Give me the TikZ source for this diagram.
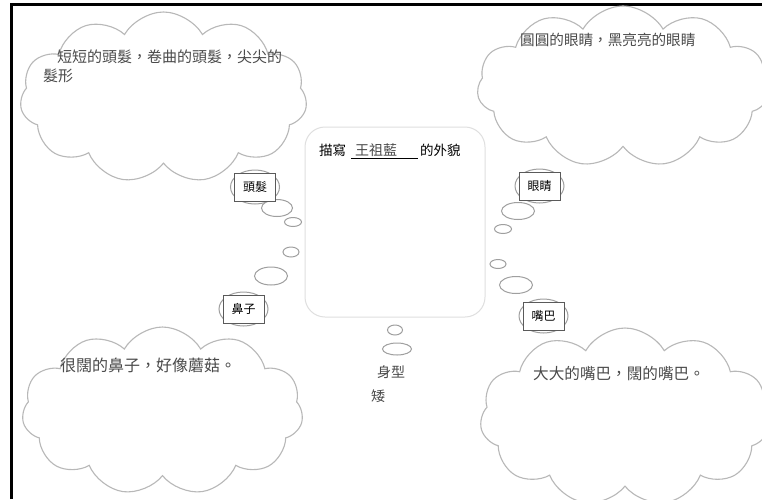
\documentclass[tikz,border=0pt]{standalone}
\usepackage{xcolor}
\usepackage{tikz}
\usepackage{fontspec}
\newfontfamily\cjk{Noto Sans CJK TC}
\usetikzlibrary{shapes.symbols, shapes.geometric, positioning}

\definecolor{cloudgray}{HTML}{B8B8B8}
\definecolor{inkgray}{HTML}{4A4A4A}
\definecolor{boxgray}{HTML}{5A5A5A}

\begin{document}
\begin{tikzpicture}[
    x=1pt, y=-1pt,
    every node/.style={font=\cjk},
    thought/.style={
        draw=cloudgray,
        line width=1.1pt,
        cloud,
        cloud puffs=11,
        cloud puff arc=120,
        cloud ignores aspect,
        inner sep=0pt
    },
    bubble/.style={draw=gray!75, line width=1pt, ellipse, inner sep=0pt},
    tagback/.style={bubble, minimum width=49pt, minimum height=34pt},
    tag/.style={
        draw=boxgray,
        line width=0.9pt,
        fill=white,
        rectangle,
        minimum width=41pt,
        minimum height=28pt,
        inner sep=0pt,
        font=\cjk\fontsize{12}{14}\selectfont
    },
    hand/.style={text=inkgray, inner sep=0pt, font=\cjk\fontsize{15}{17}\selectfont}
]

\clip (0,0) rectangle (762,499);
\fill[white] (0,0) rectangle (762,499);
\draw[line width=3pt] (11.5,499) -- (11.5,4.5) -- (762,4.5);

% Centre box
\node[draw=gray!25, line width=1pt, rounded corners=20pt, minimum width=180pt, minimum height=190pt] (main) at (395,222) {};
\node[anchor=west, inner sep=0pt, font=\cjk\fontsize{13.5}{15}\selectfont] (title) at (319,151)
    {描寫\hspace{5pt}\underline{\makebox[67pt][l]{\hspace{4pt}\color{inkgray}\fontsize{14}{15}\selectfont 王祖藍}}\hspace{2pt}的外貌};

% Clouds
\node[thought, minimum width=287pt, minimum height=171pt] (haircloud) at (163.5,97.5) {};
\node[thought, minimum width=292pt, minimum height=161pt] (eyecloud) at (623,86.5) {};
\node[thought, minimum width=281pt, minimum height=168pt] (nosecloud) at (162.5,411) {};
\node[thought, minimum width=290pt, minimum height=178pt] (mouthcloud) at (625,417) {};

% Cloud texts
\node[hand, anchor=west] (hairtext) at (57,57) {短短的頭髮，卷曲的頭髮，尖尖的};
\node[hand, anchor=west] (hairtext2) at (43,76) {髮形};
\node[hand, anchor=west, font=\cjk\fontsize{14.6}{17}\selectfont] (eyetext) at (520,40) {圓圓的眼睛，黑亮亮的眼睛};
\node[hand, anchor=west, font=\cjk\fontsize{16}{18}\selectfont] (nosetext) at (60,365) {很闊的鼻子，好像蘑菇。};
\node[hand, anchor=west, font=\cjk\fontsize{15.6}{18}\selectfont] (mouthtext) at (533,374) {大大的嘴巴，闊的嘴巴。};

% Small bubbles
\node[bubble, minimum width=31pt, minimum height=17pt] (hairb1) at (277,208) {};
\node[bubble, minimum width=17pt, minimum height=9pt] (hairb2) at (293,222) {};
\node[bubble, minimum width=16pt, minimum height=10pt] (noseb2) at (291,252) {};
\node[bubble, minimum width=33pt, minimum height=18pt] (noseb1) at (271,276) {};
\node[bubble, minimum width=33pt, minimum height=17pt] (eyeb1) at (518,211) {};
\node[bubble, minimum width=17pt, minimum height=9pt] (eyeb2) at (503,229) {};
\node[bubble, minimum width=16pt, minimum height=9pt] (mouthb2) at (498,264) {};
\node[bubble, minimum width=33pt, minimum height=17pt] (mouthb1) at (516,285) {};
\node[bubble, minimum width=15pt, minimum height=10pt] (bodyb2) at (395,330) {};
\node[bubble, minimum width=29pt, minimum height=12pt] (bodyb1) at (397,349) {};

% Labels
\node[tagback] (hairback) at (255,187) {};
\node[tag] (hair) at (hairback) {頭髮};
\node[tagback] (eyeback) at (539.5,186) {};
\node[tag] (eye) at (eyeback) {眼睛};
\node[tagback] (noseback) at (243.5,309) {};
\node[tag] (nose) at (noseback) {鼻子};
\node[tagback] (mouthback) at (543.5,316) {};
\node[tag] (mouth) at (mouthback) {嘴巴};

% Body type
\node[hand, font=\cjk\fontsize{14}{16}\selectfont] (bodytext) at (391,372) {身型};
\node[hand, font=\cjk\fontsize{14}{16}\selectfont] (bodytext2) at (378,396) {矮};

\end{tikzpicture}
\end{document}
